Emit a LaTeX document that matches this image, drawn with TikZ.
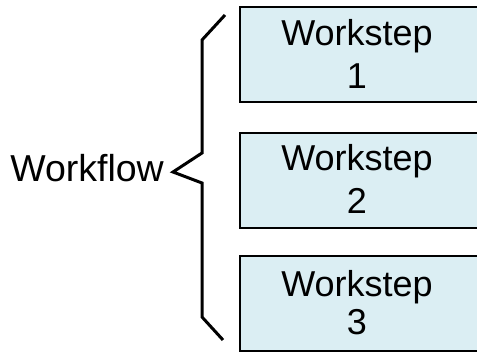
\documentclass[tikz,border=0pt]{standalone}
\usepackage{fontspec}
\setmainfont{Liberation Sans}
\definecolor{boxfill}{HTML}{DBEEF3}
\begin{document}
\begin{tikzpicture}[x=1pt,y=1pt,
  stepbox/.style={draw=black,line width=2pt,fill=boxfill,minimum width=242pt,minimum height=95pt,anchor=north west,inner sep=0pt},
  steptext/.style={font=\fontsize{36}{43}\selectfont,align=center,inner sep=0pt},
  brace/.style={draw=black,line width=3pt,line join=miter}]
\useasboundingbox (0,0) rectangle (477,353);
\clip (0,0) rectangle (477,353);
\node[stepbox] (b1) at (239,347) {};
\node[stepbox] (b2) at (239,221) {};
\node[stepbox] (b3) at (239,98) {};
\node[steptext] (t1) at (357,299) {Workstep\\1};
\node[steptext] (t2) at (357,174) {Workstep\\2};
\node[steptext,font=\fontsize{36}{38}\selectfont] (t3) at (357,50) {Workstep\\3};
\node[steptext,anchor=east,font=\fontsize{37.5}{43}\selectfont] (wf) at (164,185) {Workflow};
\path[brace] (225,338) -- (202,313) -- (202,200) -- (173,181) -- (202,170) -- (202,36) -- (223,13);
\end{tikzpicture}
\end{document}
